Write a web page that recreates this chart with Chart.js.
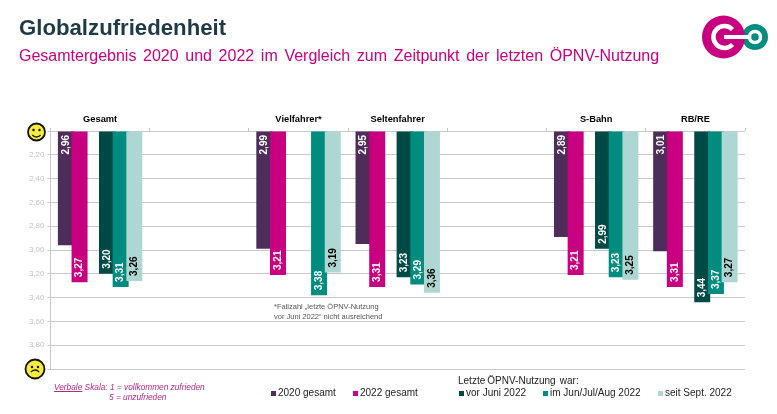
<!DOCTYPE html>
<html lang="de"><head><meta charset="utf-8">
<script src="https://cdn.jsdelivr.net/npm/chart.js@4"></script>
<style>
html,body{margin:0;padding:0;background:#fff;width:777px;height:414px;overflow:hidden;font-family:"Liberation Sans",Arial,sans-serif}
#c{position:absolute;left:0;top:0}
.t{position:absolute;white-space:nowrap;line-height:1}
.sq{position:absolute;width:5px;height:5px}
</style></head><body>
<canvas id="c" width="777" height="414"></canvas>
<div class="t" style="left:19px;top:17px;font-size:22.2px;font-weight:bold;color:#1d3a45">Globalzufriedenheit</div>
<div class="t" style="left:19px;top:48px;font-size:16px;color:#c8007f;word-spacing:2.2px">Gesamtergebnis 2020 und 2022 im Vergleich zum Zeitpunkt der letzten ÖPNV-Nutzung</div>
<div class="t" style="left:274px;top:303px;font-size:7.5px;color:#555">*Fallzahl „letzte ÖPNV-Nutzung</div>
<div class="t" style="left:274px;top:313px;font-size:7.5px;color:#555">vor Juni 2022“ nicht ausreichend</div>
<div class="t" style="left:54px;top:383px;font-size:8.3px;font-style:italic;color:#b02a80"><u>Verbale</u> Skala: 1 = vollkommen zufrieden</div>
<div class="t" style="left:109px;top:393px;font-size:8.3px;font-style:italic;color:#b02a80">5 = unzufrieden</div>
<div class="t" style="left:458px;top:376px;font-size:10px;word-spacing:-0.7px;color:#222">Letzte ÖPNV-Nutzung&nbsp; war:</div>
<div id="legend"></div>
<svg style="position:absolute;left:695px;top:8px" width="80" height="60" viewBox="695 8 80 60">
<circle cx="755" cy="37" r="13" fill="#008c7f"/>
<circle cx="723.5" cy="37" r="21.5" fill="#c8007f"/>
<path d="M742 30 A13 13 0 0 1 742 44 A21.5 21.5 0 0 0 745 37 A21.5 21.5 0 0 0 742 30Z" fill="#5a2d63"/>
<circle cx="755" cy="37" r="5.5" fill="none" stroke="#fff" stroke-width="3.5"/>
<path d="M732.5 29.5 A11 11 0 1 0 732.5 44.5" fill="none" stroke="#fff" stroke-width="4.5"/>
<path d="M724 37 H749" stroke="#fff" stroke-width="4"/>
</svg>
<script>
const categories=["Gesamt","","Vielfahrer*","Seltenfahrer","","S-Bahn","RB/RE"];
const values2020=[2.96,null,2.99,2.95,null,2.89,3.01];
const values2022=[3.27,null,3.21,3.31,null,3.21,3.31];
const spacer=[null,null,null,null,null,null,null];
const valuesVorJuni=[3.20,null,null,3.23,null,2.99,3.44];
const valuesJunJulAug=[3.31,null,3.38,3.29,null,3.23,3.37];
const valuesSeitSept=[3.26,null,3.19,3.36,null,3.25,3.27];

const seriesStyle=[
 {label:"2020 gesamt",data:values2020,color:"#4f2d5b",text:"#fff",lx:271,anchor:"base"},
 {label:"2022 gesamt",data:values2022,color:"#c8007f",text:"#fff",lx:353,anchor:"end"},
 {label:"",data:spacer,color:"#fff",text:"#fff",lx:null,anchor:"end"},
 {label:"vor Juni 2022",data:valuesVorJuni,color:"#004a46",text:"#fff",lx:459,anchor:"end"},
 {label:"im Jun/Jul/Aug 2022",data:valuesJunJulAug,color:"#008c7f",text:"#fff",lx:543,anchor:"end"},
 {label:"seit Sept. 2022",data:valuesSeitSept,color:"#aed7d3",text:"#000",lx:658,anchor:"end"}
];
const legend=document.getElementById("legend");
seriesStyle.filter(s=>s.lx!==null).forEach(s=>{
 const q=document.createElement("div");q.className="sq";q.style.cssText=`left:${s.lx}px;top:391px;background:${s.color}`;
 const t=document.createElement("div");t.className="t";t.style.cssText=`left:${s.lx+7}px;top:388px;font-size:10px;color:#222`;t.textContent=s.label;
 legend.append(q,t);
});

function smiley(ctx,x,y,r,happy){
 ctx.save();ctx.beginPath();ctx.arc(x,y,r,0,Math.PI*2);ctx.fillStyle="#f6ec3c";ctx.fill();
 ctx.lineWidth=1.8;ctx.strokeStyle="#111";ctx.stroke();
 ctx.fillStyle="#111";
 ctx.beginPath();ctx.arc(x-3,y-2,1.2,0,Math.PI*2);ctx.arc(x+3,y-2,1.2,0,Math.PI*2);ctx.fill();
 ctx.beginPath();
 if(happy)ctx.arc(x,y,5,0.2*Math.PI,0.8*Math.PI);else ctx.arc(x,y+6,5,1.2*Math.PI,1.8*Math.PI);
 ctx.lineWidth=1.3;ctx.stroke();ctx.restore();
}
const overlay={id:"overlay",
 beforeDatasetsDraw(chart){
  chart.getSortedVisibleDatasetMetas().forEach(m=>m.controller.draw());
  return false;
 },
 afterDraw(chart){
  const ctx=chart.ctx,y=chart.scales.y;
  chart.data.datasets.forEach((ds,i)=>{
   const st=seriesStyle[i];
   chart.getDatasetMeta(i).data.forEach((bar,j)=>{
    const v=ds.data[j];if(v===null)return;
    ctx.save();ctx.translate(bar.x,st.anchor==="base"?y.top+4:bar.y-5);ctx.rotate(-Math.PI/2);
    ctx.font='bold 10px "Liberation Sans"';ctx.fillStyle=st.text;
    ctx.textAlign=st.anchor==="base"?"right":"left";ctx.textBaseline="middle";
    ctx.fillText(v.toFixed(2).replace(".",","),0,0);ctx.restore();
   });
  });
  smiley(ctx,36.5,y.getPixelForValue(y.min)+1,8.5,true);
  smiley(ctx,35,y.getPixelForValue(y.max),9.5,false);
 }};
new Chart(document.getElementById("c"),{
 type:"bar",
 data:{labels:categories,datasets:seriesStyle.map(s=>({label:s.label,data:s.data,base:2,backgroundColor:s.color,borderWidth:0,categoryPercentage:0.828,barPercentage:1.168}))},
 plugins:[overlay],
 options:{responsive:false,animation:false,
  layout:{padding:{top:0,left:0,right:32,bottom:45}},
  plugins:{legend:{display:false},tooltip:{enabled:false}},
  scales:{
   x:{position:"top",afterFit(s){s.height=131},
    grid:{drawOnChartArea:false,drawTicks:true,tickLength:3,color:"#c8c8c8"},border:{display:false},
    ticks:{autoSkip:false,maxRotation:0,minRotation:0,padding:3,color:"#000",font:{family:"Liberation Sans",size:9.3,weight:"bold"}}},
   y:{reverse:true,min:2,max:4,afterFit(s){s.width=50.5},
    grid:{color:"#c8c8c8",tickLength:3},border:{color:"#c8c8c8"},
    ticks:{stepSize:0.2,padding:3,color:"#c4c4c4",font:{family:"Liberation Sans",size:8},
     callback(v){const f=+v.toFixed(2);return (f===2||f===4)?"":f.toFixed(2).replace(".",",")}}}
  }}
});
</script>
</body></html>
